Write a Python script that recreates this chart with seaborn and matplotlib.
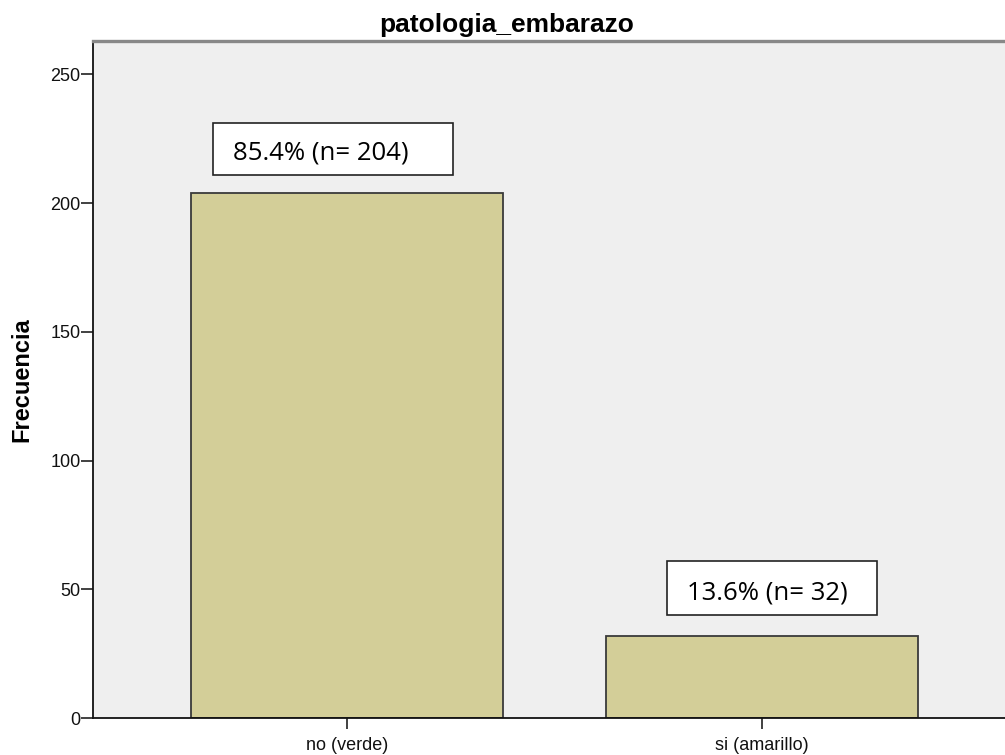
import matplotlib
matplotlib.use("Agg")
import matplotlib.pyplot as plt
from matplotlib.patches import Rectangle
import seaborn as sns
import pandas as pd

# Data
categories = ["no (verde)", "si (amarillo)"]
counts = [204, 32]
labels = ["85.4% (n= 204)", "13.6% (n= 32)"]
y_ticks = [0, 50, 100, 150, 200, 250]

BAR_COLOR = "#D3CE98"
BG_COLOR = "#EFEFEF"

sns.set_style("white")
plt.rcParams["font.family"] = ["Liberation Sans", "DejaVu Sans"]

df = pd.DataFrame({"categoria": categories, "frecuencia": counts})

fig = plt.figure(figsize=(10.05, 7.55), dpi=100)
ax = fig.add_axes([0.0925, 0.049, 0.9075, 0.8967])
ax.set_facecolor(BG_COLOR)

sns.barplot(
    data=df, x="categoria", y="frecuencia",
    color=BAR_COLOR, saturation=1, width=0.75,
    edgecolor="#3a3a3a", linewidth=1.3, ax=ax,
)

# boxed annotations: (x shift, y above bar, box width, box height) in data units
box_layout = [(-0.034, 17.2, 0.578, 20.2), (0.024, 18.5, 0.506, 21.0)]
for i, (val, lab) in enumerate(zip(counts, labels)):
    dx, dy, w, h = box_layout[i]
    cx, cy = i + dx, val + dy
    ax.add_patch(Rectangle((cx - w / 2, cy - h / 2), w, h, facecolor="white",
                           edgecolor="#222222", linewidth=1.2, zorder=3))
    ax.text(cx - w / 2 + 0.048, cy - 4.4, lab, ha="left", va="baseline",
            fontsize=18.5, color="black", zorder=4,
            family=["Open Sans", "DejaVu Sans"])

ax.set_xlim(-0.612, 1.585)
ax.set_ylim(0, 263)
ax.set_yticks(y_ticks)
ax.set_yticklabels([str(t) for t in y_ticks], fontsize=13)
ax.tick_params(axis="x", labelsize=13, length=8, width=1.3, color="#333333",
               pad=5.5, labelcolor="#111111")
ax.tick_params(axis="y", length=8.5, width=1.3, color="#333333", pad=0.5,
               labelcolor="#111111")
ax.tick_params(left=True, bottom=True)

ax.set_xlabel("")
ax.set_ylabel("Frecuencia", fontsize=17, fontweight="bold", labelpad=12,
              color="black")
ax.set_title("patologia_embarazo", fontsize=19, fontweight="bold", pad=6.5,
             color="black", x=0.454)

for side in ["left", "bottom"]:
    ax.spines[side].set_color("#111111")
    ax.spines[side].set_linewidth(1.3)
ax.spines["top"].set_color("#888888")
ax.spines["top"].set_linewidth(2.4)
ax.spines["right"].set_visible(False)

fig.savefig("out.png", dpi=100)
